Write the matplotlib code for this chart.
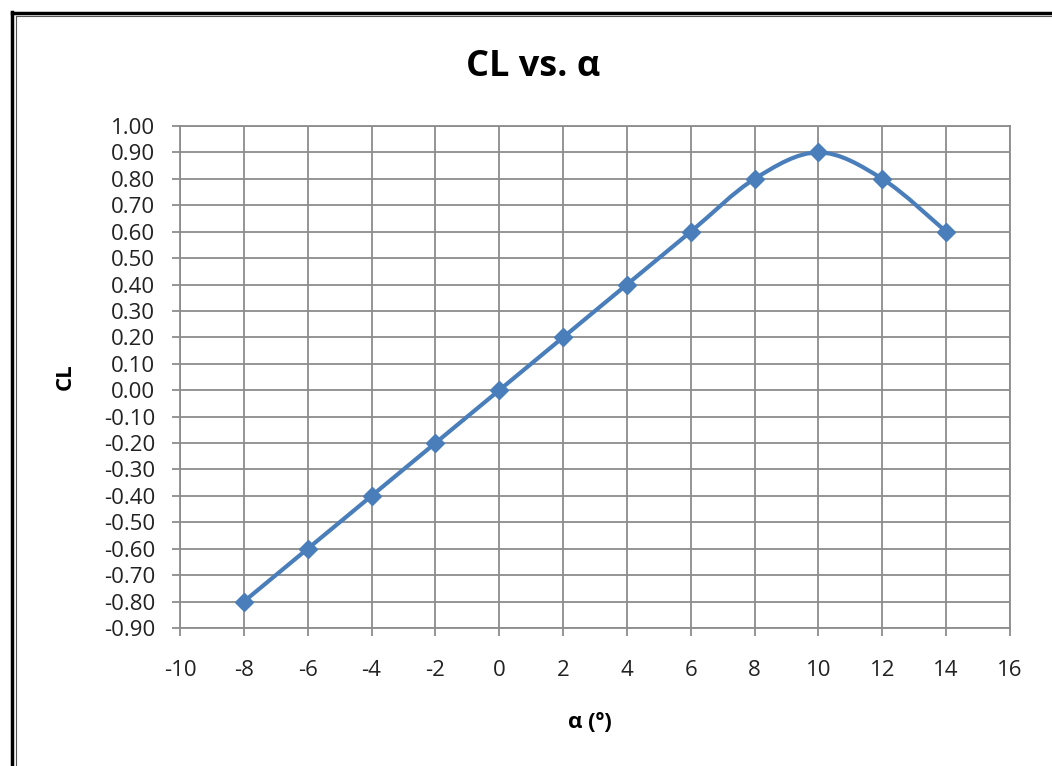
import matplotlib
matplotlib.use("Agg")
import matplotlib.pyplot as plt
from matplotlib.path import Path
from matplotlib.patches import PathPatch
from matplotlib.lines import Line2D
import numpy as np

# data
alpha = [-8, -6, -4, -2, 0, 2, 4, 6, 8, 10, 12, 14]
cl = [-0.80, -0.60, -0.40, -0.20, 0.00, 0.20, 0.40, 0.60, 0.80, 0.90, 0.80, 0.60]

x_ticks = list(range(-10, 17, 2))
y_ticks = [round(v, 2) for v in np.arange(-0.9, 1.001, 0.1)]

blue = "#4a7ebb"
grid_col = "#8c8c8c"

plt.rcParams['font.family'] = ['Open Sans', 'DejaVu Sans']

fig = plt.figure(figsize=(10.52, 7.66), dpi=100)
ax = fig.add_axes([180 / 1052, 1 - 628 / 766, 830 / 1052, 502 / 766])


# smoothed line like Excel (Bezier through points)
def smooth_path(xs, ys):
    pts = np.column_stack([xs, ys]).astype(float)
    n = len(pts)
    verts = [pts[0]]
    codes = [Path.MOVETO]
    for i in range(n - 1):
        p0 = pts[max(i - 1, 0)]
        p1 = pts[i]
        p2 = pts[i + 1]
        p3 = pts[min(i + 2, n - 1)]
        c1 = p1 + (p2 - p0) / 6.0
        c2 = p2 - (p3 - p1) / 6.0
        verts += [c1, c2, p2]
        codes += [Path.CURVE4] * 3
    return Path(verts, codes)


ax.add_patch(PathPatch(smooth_path(alpha, cl), facecolor='none',
                       edgecolor=blue, lw=3.0, zorder=3, capstyle='round'))
ax.plot(alpha, cl, linestyle='None', marker='D', markersize=9.5,
        color=blue, zorder=4)

ax.set_xlim(-10, 16)
ax.set_ylim(-0.9, 1.0)
ax.set_xticks(x_ticks)
ax.set_yticks(y_ticks)
ax.set_xticklabels([str(v) for v in x_ticks])
ax.set_yticklabels(["%.2f" % (v + 0.0) if abs(v) > 1e-9 else "0.00" for v in y_ticks])
ax.grid(True, color=grid_col, lw=1.3)
ax.set_axisbelow(True)
for s in ax.spines.values():
    s.set_color(grid_col)
    s.set_linewidth(1.3)
ax.tick_params(axis='both', colors=grid_col, length=6, width=1.3,
               labelcolor='#222222', labelsize=16)
ax.tick_params(axis='x', pad=17)
ax.tick_params(axis='y', pad=12)

fig.text(533 / 1052, 1 - 67 / 766, "CL vs. α", ha='center', va='center',
         fontsize=26, fontweight='bold', color='black')
fig.text(65 / 1052, 1 - 377 / 766, "CL", ha='center', va='center',
         rotation=90, fontsize=16, fontweight='bold', color='black')
fig.text(590 / 1052, 1 - 723 / 766, "α (º)", ha='center', va='center',
         fontsize=16, fontweight='bold', color='black')

# outer double frame (only top and left visible)
W, H = 1052, 766
fig.add_artist(Line2D([11.5 / W, 11.5 / W], [0, 1 - 12 / H], transform=fig.transFigure,
                      color='black', lw=2.5))
fig.add_artist(Line2D([11.5 / W, 1], [1 - 12.5 / H, 1 - 12.5 / H], transform=fig.transFigure,
                      color='black', lw=2.5))
fig.add_artist(Line2D([15.5 / W, 15.5 / W], [0, 1 - 16 / H], transform=fig.transFigure,
                      color='#555555', lw=0.8))
fig.add_artist(Line2D([15.5 / W, 1], [1 - 16 / H, 1 - 16 / H], transform=fig.transFigure,
                      color='#555555', lw=0.8))

fig.savefig("out.png", dpi=100)
